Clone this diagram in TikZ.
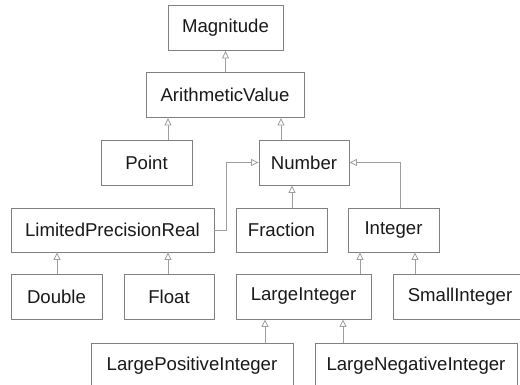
\documentclass[tikz,border=0pt]{standalone}
\usepackage{fontspec}
\setmainfont{Liberation Sans}
\usetikzlibrary{arrows.meta}
\begin{document}
\begin{tikzpicture}[x=1pt,y=-1pt,
  cls/.style={draw=black!50, line width=0.9pt, fill=white, minimum height=45pt,
    inner sep=0pt, font=\fontsize{18.6}{20}\selectfont, text=black!90},
  isa/.style={draw=black!38, line width=0.8pt,
    -{Triangle[open, length=7.5pt, width=7pt, fill=white]}}]
\useasboundingbox (0,0) rectangle (520,385);
\clip (0,0) rectangle (520,385);

% class boxes
\node[cls, minimum width=115pt] (mag) at (225.5,28) {Magnitude};
\node[cls, minimum width=158pt] (av)  at (225,95) {ArithmeticValue};
\node[cls, minimum width=91pt]  (pt)  at (146.5,162.5) {Point};
\node[cls, minimum width=90pt]  (num) at (304,162.5) {Number};
\node[cls, minimum width=203pt, minimum height=44pt] (lpr) at (112.5,230) {LimitedPrecisionReal};
\node[cls, minimum width=91pt, minimum height=44pt] (fr)  at (281.5,230) {Fraction};
\node[cls, minimum width=91pt, minimum height=44pt] (int) at (393.5,230) {Integer};
\node[cls, minimum width=91pt]  (dbl) at (56.5,296.5) {Double};
\node[cls, minimum width=90pt]  (flt) at (169,296.5) {Float};
\node[cls, minimum width=135pt] (li)  at (303.5,296.5) {LargeInteger};
\node[cls, minimum width=134pt] (si)  at (460,296.5) {SmallInteger};
\node[cls, minimum width=202pt] (lpi) at (192,365.5) {LargePositiveInteger};
\node[cls, minimum width=202pt] (lni) at (416,365.5) {LargeNegativeInteger};

% generalisation arrows
\draw[isa] (av.north -| mag.south) -- (mag.south);
\draw[isa] (168,0 |- pt.north) -- (168,0 |- av.south);
\draw[isa] (281,0 |- num.north) -- (281,0 |- av.south);
\draw[isa] (292,0 |- fr.north) -- (292,0 |- num.south);
\draw[isa] (lpr.east) -| (226,162.5) -- (num.west);
\draw[isa] (400,0 |- int.north) |- (num.east);
\draw[isa] (57,0 |- dbl.north) -- (57,0 |- lpr.south);
\draw[isa] (168,0 |- flt.north) -- (168,0 |- lpr.south);
\draw[isa] (360,0 |- li.north) -- (360,0 |- int.south);
\draw[isa] (415,0 |- si.north) -- (415,0 |- int.south);
\draw[isa] (265,0 |- lpi.north) -- (265,0 |- li.south);
\draw[isa] (343,0 |- lni.north) -- (343,0 |- li.south);
\end{tikzpicture}
\end{document}
